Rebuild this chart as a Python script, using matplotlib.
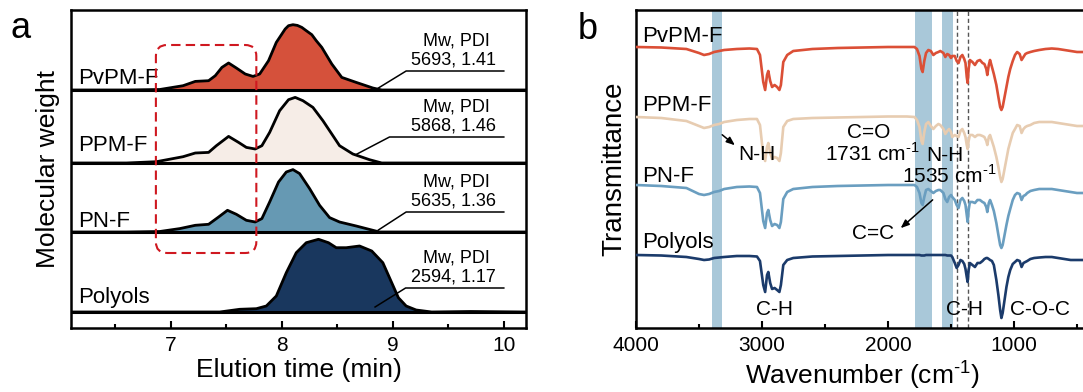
import matplotlib
matplotlib.use("Agg")
import matplotlib.pyplot as plt
from matplotlib.patches import FancyBboxPatch
import numpy as np

plt.rcParams['font.family'] = ['Liberation Sans', 'DejaVu Sans']
plt.rcParams['mathtext.fontset'] = 'custom'
plt.rcParams['mathtext.rm'] = 'Liberation Sans'

# ---------------- GPC traces (elution time in min, height above each baseline)
names = ["PvPM-F", "PPM-F", "PN-F", "Polyols"]
gpc_fill = ["#d5513b", "#f6ede7", "#6699b3", "#19375e"]
mw = [5693, 5868, 5635, 2594]
pdi = [1.41, 1.46, 1.36, 1.17]

t_pvpm = [6.10, 6.60, 6.90, 7.11, 7.22, 7.34, 7.40, 7.46, 7.52, 7.59, 7.67, 7.74, 7.80, 7.88,
          7.95, 8.03, 8.06, 8.10, 8.14, 8.18, 8.22, 8.27, 8.31, 8.36, 8.45, 8.54, 8.67, 8.82,
          8.90, 9.50, 10.20]
h_pvpm = [0, 0, 0.5, 4.3, 8.6, 9.3, 14.3, 22.6, 27, 22, 16, 13.6, 16, 29.3,
          47.6, 61, 64.3, 65.3, 64.6, 62.6, 59.3, 55.3, 49.3, 42.6, 26, 12.6, 7.6, 2,
          0, 0, 0]

t_ppm = [6.10, 6.60, 6.87, 7.11, 7.22, 7.34, 7.41, 7.52, 7.61, 7.68, 7.76, 7.82, 7.89, 7.98,
         8.06, 8.12, 8.19, 8.28, 8.37, 8.45, 8.52, 8.64, 8.79, 8.90, 9.50, 10.20]
h_ppm = [0, 0, 1.3, 6.3, 10, 10.6, 17.3, 26.6, 20.6, 15.6, 14, 17.3, 30.6, 52.3,
         63.3, 65.6, 62.3, 55.6, 42.3, 29, 17.3, 9, 3.3, 0, 0, 0]

t_pn = [6.10, 6.60, 6.90, 7.08, 7.22, 7.34, 7.43, 7.51, 7.59, 7.68, 7.76, 7.82, 7.89, 7.97,
        8.04, 8.10, 8.16, 8.25, 8.34, 8.43, 8.52, 8.67, 8.82, 8.88, 9.50, 10.20]
h_pn = [0, 0, 0.5, 3.4, 6.7, 7.7, 15, 21.7, 17.7, 11.7, 10, 13.4, 30, 50,
        60, 62.4, 58.4, 43.4, 26.7, 14.4, 10, 6, 1.7, 0, 0, 0]

t_pol = [6.10, 7.00, 7.44, 7.62, 7.77, 7.86, 7.95, 8.04, 8.13, 8.22, 8.33, 8.42, 8.49, 8.58,
         8.70, 8.81, 8.91, 8.99, 9.05, 9.12, 9.21, 9.35, 9.70, 10.20]
h_pol = [0, 0, 0, 2.7, 3.3, 6, 16, 39.3, 59.3, 69.3, 72.7, 69.3, 64.3, 64.3,
         66, 61, 49.3, 29.3, 14.3, 6, 2, 0, 0.5, 0]

gpc_t = [t_pvpm, t_ppm, t_pn, t_pol]
gpc_h = [h_pvpm, h_ppm, h_pn, h_pol]
gpc_base = [238, 165, 96, 16]

# ---------------- FTIR spectra (wavenumber, band depth below each baseline)
wn = [4000, 3800, 3600, 3500, 3460, 3420, 3380, 3340, 3300, 3200, 3100, 3040, 3016, 2990, 2975,
      2960, 2950, 2935, 2920, 2900, 2880, 2862, 2850, 2831, 2800, 2752, 2600, 2400, 2200, 2000,
      1850, 1790, 1770, 1750, 1735, 1725, 1712, 1698, 1680, 1660, 1640, 1620, 1600, 1585, 1560,
      1545, 1530, 1515, 1500, 1490, 1470, 1455, 1440, 1425, 1410, 1395, 1385, 1375, 1368, 1360,
      1350, 1330, 1310, 1290, 1270, 1250, 1235, 1220, 1212, 1200, 1190, 1175, 1160, 1140, 1124,
      1110, 1100, 1090, 1075, 1060, 1045, 1030, 1010, 992, 975, 955, 940, 925, 910, 895,
      870, 840, 800, 750, 700, 650, 600, 550, 500, 450, 400]

d_pvpm = [0, 0.5, 2, 6, 8, 7, 5, 4, 3, 2, 1.5, 2, 8, 35, 43,
          28, 24, 34, 40, 38, 40, 43, 38, 15, 8, 4, 2, 1, 0.5, 0,
          0, 0, 2, 9, 22, 25, 14, 6, 3, 4, 8, 6, 5, 4, 6,
          10, 7, 8, 11, 9, 9, 14, 16, 10, 8, 12, 16, 30, 36, 22,
          13, 15, 18, 14, 13, 16, 17, 22, 28, 18, 13, 20, 27, 38, 50,
          60, 63, 60, 50, 40, 30, 22, 14, 8, 5, 7, 13, 10, 7, 6,
          5, 4, 3, 2, 1.5, 2, 3, 4, 5, 5, 5]
d_ppm = [0, 1, 4, 9, 11, 10, 8, 7, 5, 3, 2, 2, 8, 38, 44,
         30, 26, 36, 42, 40, 41, 44, 36, 10, 4, 2, 1, 0.5, 0, -0.5,
         -0.5, 0, 3, 10, 24, 27, 15, 7, 5, 9, 12, 9, 7, 8, 12,
         17, 14, 12, 15, 20, 18, 19, 20, 14, 12, 16, 20, 28, 32, 24,
         18, 18, 20, 18, 18, 19, 20, 24, 28, 20, 18, 24, 30, 40, 50,
         60, 65, 62, 52, 42, 32, 25, 16, 12, 8, 9, 16, 12, 10, 9,
         8, 6, 5, 5, 5, 6, 7, 8, 9, 9, 9]
d_pn = [0, 1, 3, 9, 10, 9, 7, 6, 4, 2, 1.5, 2, 8, 36, 43,
        28, 25, 35, 41, 39, 40, 43, 37, 14, 7, 4, 2, 1, 0.5, 0,
        0, 0, 2, 8, 18, 20, 12, 5, 4, 6, 8, 6, 5, 5, 8,
        14, 17, 12, 10, 12, 15, 20, 23, 15, 13, 16, 20, 30, 37, 25,
        17, 17, 18, 15, 15, 17, 18, 22, 27, 18, 15, 20, 26, 38, 50,
        60, 63, 60, 50, 40, 31, 24, 15, 10, 8, 9, 15, 11, 10, 8,
        6, 5, 4, 4, 4, 5, 6, 7, 8, 8, 8]
d_pol = [0, 0.5, 2, 4, 5, 4.5, 3, 2.5, 2, 1, 1, 1.5, 6, 30, 37,
         20, 17, 28, 34, 33, 35, 37, 30, 10, 5, 3, 1.5, 1, 0.5, 0,
         0, 0, 0, 0, 0.5, 0.5, 0.5, 0, 0, 0, 0, 0, 0, 0, 0,
         0, 0.5, 0.5, 0.5, 2, 8, 13, 10, 5, 6, 9, 14, 22, 27, 15,
         8, 10, 12, 8, 8, 6, 4, 3, 3, 4, 5, 6, 10, 25, 40,
         55, 63, 58, 45, 32, 22, 15, 9, 7, 5, 6, 12, 8, 7, 6,
         4, 3, 2.5, 2, 2, 3, 4, 5, 5, 5, 5]

ir_depth = [d_pvpm, d_ppm, d_pn, d_pol]
ir_color = ["#db4f36", "#e7ccb1", "#6a9ec0", "#1b3b6b"]
ir_base = [281, 211, 143, 73]
bands = [(3400, 3320), (1786, 1653), (1570, 1487)]
dashed_wn = [1455, 1365]

fig = plt.figure(figsize=(10.83, 3.92), dpi=100)
W, H = 1083.0, 392.0

# ======================= panel a
ax = fig.add_axes([71 / W, 1 - 328 / H, 455 / W, 318 / H])
for i in range(4):
    t = np.array(gpc_t[i])
    y = gpc_base[i] + np.array(gpc_h[i])
    ax.fill_between(t, gpc_base[i], y, color=gpc_fill[i], lw=0, zorder=2)
    ax.plot(t, y, color="black", lw=2.0, zorder=3, solid_joinstyle="round")
    ax.axhline(gpc_base[i], color="black", lw=2.2, zorder=3)

label_y = [244, 177, 101, 25]
for i in range(4):
    ax.text(6.16, label_y[i], names[i], fontsize=16, ha="left", va="baseline", zorder=5)

# Mw / PDI callouts
text_t = 9.57
mw_y = [287, 221, 146, 70]
und_y = [257, 191, 116, 40]
und_x0 = [9.12, 8.97, 9.12, 9.115]
tip = [(8.87, 240), (8.66, 173), (8.87, 98), (8.84, 21)]
for i in range(4):
    ax.text(text_t, mw_y[i], "Mw, PDI", fontsize=13, ha="center", va="center")
    ax.text(text_t - 0.02, mw_y[i] - 19, "%d, %.2f" % (mw[i], pdi[i]), fontsize=13,
            ha="center", va="center")
    ax.plot([10.0, und_x0[i], tip[i][0]], [und_y[i], und_y[i], tip[i][1]],
            color="black", lw=1.1, zorder=4)

box = FancyBboxPatch((6.865, 75), 7.77 - 6.865, 283 - 75,
                     boxstyle="round,pad=0,rounding_size=0.1",
                     mutation_aspect=111, fill=False, ec="#cf1820", lw=1.5,
                     ls=(0, (4.5, 2.5)), zorder=6)
ax.add_patch(box)

ax.set_xlim(6.1, 10.2)
ax.set_ylim(0, 318)
ax.set_yticks([])
ax.set_xticks([7, 8, 9, 10])
ax.set_xticks([6.5, 7.5, 8.5, 9.5], minor=True)
ax.tick_params(axis="x", which="major", direction="in", length=5, width=1.5, labelsize=15, pad=6)
ax.tick_params(axis="x", which="minor", direction="in", length=3, width=1.5)
for s in ax.spines.values():
    s.set_linewidth(1.8)
ax.set_xlabel("Elution time (min)", fontsize=19, labelpad=2)
ax.set_ylabel("Molecular weight", fontsize=19, labelpad=8)

# ======================= panel b
bx = fig.add_axes([636 / W, 1 - 328 / H, 453.6 / W, 318 / H])
for hi, lo in bands:
    bx.axvspan(lo, hi, color="#a9c8d9", lw=0, zorder=1)
for x in dashed_wn:
    bx.axvline(x, color="#555555", lw=1.0, ls=(0, (3, 2)), zorder=1)
for i in range(4):
    bx.plot(wn, ir_base[i] - np.array(ir_depth[i]), color=ir_color[i], lw=1.9, zorder=3)
    bx.text(3952, [286, 217, 146, 80][i], names[i], fontsize=16, ha="left", va="baseline", zorder=5)

fs = 15
inv_cm = r"cm$^{\text{-1}}$"
bx.annotate("", xy=(3198, 181), xytext=(3333, 195),
            arrowprops=dict(arrowstyle="-|>,head_length=0.5,head_width=0.2", color="black", lw=1.1))
bx.text(3042, 168, "N-H", fontsize=fs, ha="center", va="baseline")
bx.text(2151, 190, "C=O", fontsize=fs, ha="center", va="baseline")
bx.text(2121, 167, "1731 " + inv_cm, fontsize=fs, ha="center", va="baseline")
bx.text(1548, 167, "N-H", fontsize=fs, ha="center", va="baseline")
bx.text(1512, 145, "1535 " + inv_cm, fontsize=fs, ha="center", va="baseline")
bx.text(2115, 89, "C=C", fontsize=fs, ha="center", va="baseline")
bx.annotate("", xy=(1916, 98), xytext=(1629, 130),
            arrowprops=dict(arrowstyle="-|>,head_length=0.5,head_width=0.2", color="black", lw=1.1))
bx.text(2901, 13, "C-H", fontsize=fs, ha="center", va="baseline")
bx.text(1389, 13, "C-H", fontsize=fs, ha="center", va="baseline")
bx.text(790, 13, "C-O-C", fontsize=fs, ha="center", va="baseline")

bx.set_xlim(4000, 400)
bx.set_ylim(0, 318)
bx.set_yticks([])
bx.set_xticks([4000, 3000, 2000, 1000])
bx.set_xticks([3500, 2500, 1500, 500], minor=True)
bx.tick_params(axis="x", which="major", direction="in", length=5, width=1.5, labelsize=15, pad=6)
bx.tick_params(axis="x", which="minor", direction="in", length=3, width=1.5)
for s in bx.spines.values():
    s.set_linewidth(1.8)
bx.set_xlabel("Wavenumber (" + inv_cm + ")", fontsize=19, labelpad=2)
bx.set_ylabel("Transmittance", fontsize=20, labelpad=6)

fig.text(10 / W, 1 - 38 / H, "a", fontsize=26, va="baseline")
fig.text(578 / W, 1 - 39 / H, "b", fontsize=26, va="baseline")

fig.savefig("out.png", dpi=100)
